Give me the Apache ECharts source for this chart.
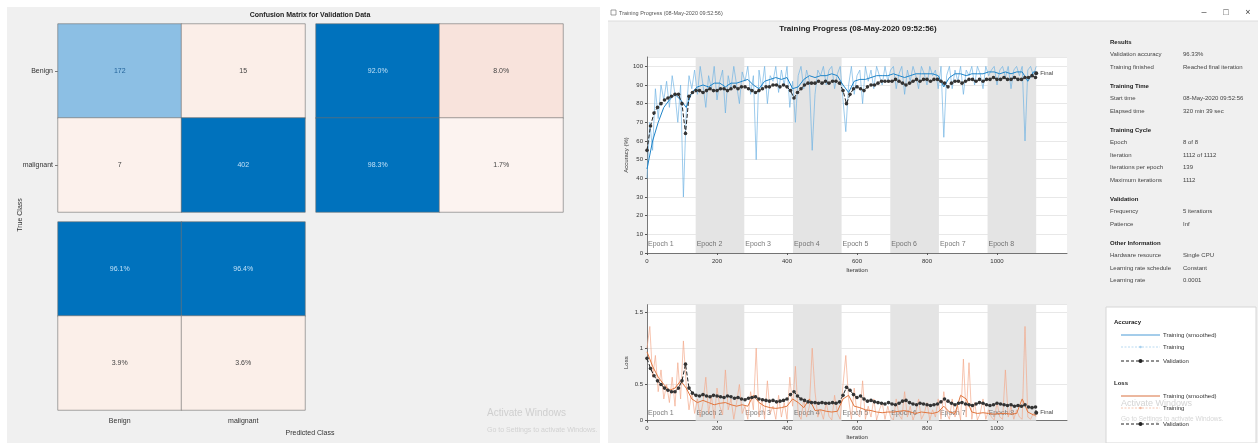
<!DOCTYPE html>
<html><head><meta charset="utf-8">
<script src="https://cdn.jsdelivr.net/npm/echarts@6/dist/echarts.min.js"></script>
<style>html,body{margin:0;padding:0;background:#fff}#c{width:1258px;height:443px}</style>
</head><body><div id="c"></div><script>
// ---------------- DATA ----------------
const classes = ['Benign', 'malignant'];
const counts = [[172, 15], [7, 402]];          // true class rows x predicted class cols
const rowPct = [[92.0, 8.0], [98.3, 1.7]];     // per true class: correct, incorrect
const colPct = [[96.1, 96.4], [3.9, 3.6]];     // per predicted class: correct row, incorrect row

const itersPerEpoch = 139;
const numEpochs = 8;
const maxIter = 1112;
const rawStep = 8, smoothStep = 16, valStep = 10;
const epochNames = ['Epoch 1','Epoch 2','Epoch 3','Epoch 4','Epoch 5','Epoch 6','Epoch 7','Epoch 8'];

const accRaw = [
 40,70,55,88,72,90,82,92,78,95,
 85,70,90,30,75,95,88,98,85,100,
 90,78,95,88,100,82,92,98,75,95,
 88,100,90,80,97,92,100,85,95,50,
 98,88,100,80,95,92,100,86,98,90,
 100,78,92,70,95,100,88,98,92,55,
 85,98,95,100,90,98,100,88,96,100,
 82,65,90,100,85,95,98,80,100,92,
 98,88,100,95,90,100,92,98,100,88,
 96,100,85,98,92,100,95,88,100,96,
 90,100,95,98,88,100,62,95,100,88,
 98,92,100,85,98,95,100,90,100,96,
 88,100,95,98,100,90,98,100,94,100,
 88,98,100,95,100,60,98,100,95,100];
const accSmooth = [
 45,60,70,78,82,85,82,78,86,89,
 90,89,91,91,89,91,91,92,93,90,
 88,92,93,94,93,94,88,89,93,95,
 94,95,95,96,95,90,86,92,93,93,
 94,95,95,95,96,95,94,95,96,96,
 96,96,95,89,94,96,96,95,96,96,
 96,97,97,96,97,96,97,97,92,97,
 97];
const accVal = [
 55,68,75,78,80,82,83,84,85,85,
 80,64,84,86,87,87,86,87,88,87,
 87,88,88,87,88,89,88,89,89,88,
 87,86,87,88,89,89,90,90,89,90,
 89,87,83,86,88,90,91,91,91,92,
 91,92,91,92,92,91,87,80,85,88,
 89,88,87,89,90,90,91,92,92,92,
 92,93,92,91,90,91,92,93,92,93,
 93,92,93,93,92,91,89,91,92,92,
 91,92,93,93,92,93,92,93,93,94,
 93,93,94,93,93,94,93,93,94,94,
 95,94,
 96.3];
const lossRaw = [
 1.0,1.3,0.6,0.9,0.4,0.7,0.3,0.5,0.25,0.6,
 0.2,0.8,0.3,1.1,0.5,0.15,0.4,0.1,0.3,0.05,
 0.25,0.6,0.1,0.35,0.03,0.45,0.2,0.08,0.7,0.15,
 0.3,0.02,0.25,0.5,0.1,0.2,0.02,0.4,0.15,1.0,
 0.05,0.3,0.02,0.55,0.1,0.2,0.02,0.35,0.05,0.25,
 0.02,0.6,0.2,0.75,0.1,0.02,0.3,0.05,0.2,1.0,
 0.4,0.05,0.15,0.02,0.25,0.06,0.01,0.35,0.1,0.02,
 0.5,0.9,0.3,0.02,0.45,0.1,0.05,0.55,0.02,0.2,
 0.05,0.3,0.01,0.15,0.25,0.02,0.2,0.05,0.01,0.3,
 0.08,0.02,0.4,0.05,0.2,0.01,0.12,0.3,0.02,0.1,
 0.25,0.01,0.15,0.05,0.3,0.02,0.4,0.1,0.02,0.3,
 0.05,0.2,0.01,0.85,0.05,0.8,0.02,0.25,0.01,0.1,
 0.3,0.02,0.15,0.05,0.01,0.25,0.05,0.02,0.7,0.05,
 0.2,0.02,0.15,0.05,0.02,1.3,0.05,0.02,0.1,0.05];
const lossSmooth = [
 0.95,0.75,0.6,0.5,0.42,0.45,0.55,0.45,0.3,0.25,
 0.28,0.25,0.22,0.24,0.25,0.22,0.2,0.22,0.2,0.35,
 0.25,0.2,0.18,0.17,0.18,0.2,0.3,0.25,0.18,0.3,
 0.14,0.15,0.13,0.12,0.13,0.3,0.35,0.2,0.18,0.15,
 0.14,0.12,0.11,0.12,0.12,0.13,0.14,0.12,0.1,0.12,
 0.11,0.1,0.12,0.2,0.12,0.1,0.35,0.3,0.12,0.1,
 0.11,0.1,0.09,0.1,0.1,0.09,0.1,0.3,0.12,0.08,
 0.08];
const lossVal = [
 0.86,0.72,0.62,0.55,0.50,0.45,0.42,0.40,0.40,0.45,
 0.55,0.78,0.45,0.38,0.35,0.34,0.36,0.34,0.33,0.35,
 0.34,0.33,0.32,0.34,0.33,0.31,0.32,0.30,0.29,0.31,
 0.32,0.33,0.30,0.29,0.28,0.27,0.28,0.26,0.27,0.28,
 0.30,0.36,0.40,0.34,0.30,0.28,0.26,0.25,0.25,0.24,
 0.25,0.24,0.24,0.25,0.24,0.26,0.35,0.46,0.42,0.36,
 0.32,0.34,0.30,0.27,0.28,0.26,0.25,0.24,0.23,0.25,
 0.23,0.22,0.24,0.27,0.28,0.25,0.23,0.22,0.24,0.23,
 0.22,0.21,0.22,0.23,0.26,0.30,0.27,0.24,0.22,0.24,
 0.25,0.23,0.22,0.21,0.23,0.25,0.24,0.22,0.21,0.22,
 0.24,0.23,0.22,0.21,0.22,0.20,0.21,0.20,0.22,0.19,
 0.18,0.19,
 0.11];

const infoSections = [
 {title:'Results', rows:[['Validation accuracy','96.33%'],['Training finished','Reached final iteration']]},
 {title:'Training Time', rows:[['Start time','08-May-2020 09:52:56'],['Elapsed time','320 min 39 sec']]},
 {title:'Training Cycle', rows:[['Epoch','8 of 8'],['Iteration','1112 of 1112'],['Iterations per epoch','139'],['Maximum iterations','1112']]},
 {title:'Validation', rows:[['Frequency','5 iterations'],['Patience','Inf']]},
 {title:'Other Information', rows:[['Hardware resource','Single CPU'],['Learning rate schedule','Constant'],['Learning rate','0.0001']]}
];

// ---------------- STYLE ----------------
const FONT = 'Liberation Sans, Arial, sans-serif';
const BLUE = '#0072bd';
const countColors = [['#8cbfe4','#fbeee8'],['#fcf1ec', BLUE]];
const rowColors = [[BLUE,'#f8e3dc'],[BLUE,'#fcf3f0']];
const colColors = [[BLUE,BLUE],['#fbefe9','#fbefe9']];
const textOn = c => c === BLUE ? '#bfe0f7' : (c === '#8cbfe4' ? '#23639a' : '#444');

function toXY(arr, step){ return arr.map((v,i)=>[Math.min(i*step, maxIter), v]); }

function cmSeries(idx, vals, colors, fmt){
  const data = [];
  for (let r=0;r<2;r++) for (let c=0;c<2;c++){
    data.push({value:[c, r, vals[r][c]], itemStyle:{color:colors[r][c]},
      label:{color:textOn(colors[r][c])}});
  }
  return {type:'heatmap', xAxisIndex:idx, yAxisIndex:idx, data,
    itemStyle:{borderColor:'#6e6e6e', borderWidth:0.6},
    label:{show:true, fontSize:7, fontFamily:FONT, formatter:p=>fmt(p.value[2])},
    emphasis:{disabled:true}};
}

const bandAreas = [];
for (let e=1;e<numEpochs;e+=2){
  bandAreas.push([{xAxis:e*itersPerEpoch}, {xAxis:(e+1)*itersPerEpoch}]);
}
const markAreaCfg = {silent:true, data:bandAreas, itemStyle:{color:'#e4e4e4'}, label:{show:false}};

function epochLabels(gi, yPos){
  return {type:'scatter', xAxisIndex:gi, yAxisIndex:gi, symbolSize:0, silent:true, z:1,
    data:epochNames.map((n,e)=>({name:n, value:[e*itersPerEpoch, yPos]})),
    label:{show:true, position:'right', distance:1, formatter:'{b}', fontSize:7, color:'#555', fontFamily:FONT}};
}

const axisLblSmall = {fontSize:6, color:'#333', fontFamily:FONT};
function trainX(gi){
  return {type:'value', gridIndex:gi, min:0, max:1200, interval:200,
    axisLine:{lineStyle:{color:'#555', width:0.8}}, axisTick:{length:2, lineStyle:{color:'#555'}},
    axisLabel:Object.assign({showMaxLabel:false, margin:5, formatter:v=>String(v)}, axisLblSmall),
    splitLine:{show:false},
    name:'Iteration', nameLocation:'middle', nameGap:14, nameTextStyle:{fontSize:6, color:'#333', fontFamily:FONT}};
}

function valSeries(gi, arr){
  const d = toXY(arr, valStep);
  d[d.length-1] = {value:d[d.length-1], symbolSize:4,
    label:{show:true, position:'right', formatter:'Final', fontSize:6, color:'#444', fontFamily:FONT, distance:2}};
  return {type:'line', xAxisIndex:gi, yAxisIndex:gi, data:d, symbol:'circle', symbolSize:3.6,
    itemStyle:{color:'#333'}, lineStyle:{color:'#222', width:1, type:'dashed'}, z:5, silent:true, animation:false};
}

// ---------------- GRAPHICS ----------------
const g = [];
g.push({type:'rect', shape:{x:7,y:7,width:593,height:436}, style:{fill:'#f0f0f0'}, z:-10, silent:true});
g.push({type:'rect', shape:{x:608,y:21,width:650,height:422}, style:{fill:'#f0f0f0'}, z:-10, silent:true});
g.push({type:'line', shape:{x1:608,y1:21,x2:1258,y2:21}, style:{stroke:'#dcdcdc', lineWidth:1}, z:-9});
function T(text,x,y,opt){ g.push({type:'text', z:20, silent:true, style:Object.assign({text,x,y,fill:'#333', font:'7px '+FONT, textVerticalAlign:'middle'}, opt||{})}); }
T('Confusion Matrix for Validation Data', 310, 15, {font:'bold 7px '+FONT, textAlign:'center', fill:'#222'});
g.push({type:'text', z:20, rotation:Math.PI/2, x:20, y:215, style:{text:'True Class', font:'7px '+FONT, fill:'#333', textAlign:'center', textVerticalAlign:'middle'}});
T('Predicted Class', 310, 433, {textAlign:'center'});
T('Activate Windows', 487, 413, {font:'10px '+FONT, fill:'#cfcfcf'});
T('Go to Settings to activate Windows.', 487, 430, {font:'7px '+FONT, fill:'#d2d2d2'});
// window title bar
g.push({type:'rect', shape:{x:611,y:10,width:5,height:5}, style:{fill:'none', stroke:'#777', lineWidth:0.7}, z:20});
T('Training Progress (08-May-2020 09:52:56)', 619, 13, {font:'5.5px '+FONT, fill:'#555'});
T('\u2013', 1204, 13, {font:'9px '+FONT, fill:'#444', textAlign:'center'});
T('\u25A1', 1226, 13, {font:'9px '+FONT, fill:'#444', textAlign:'center'});
T('\u00D7', 1248, 13, {font:'9px '+FONT, fill:'#444', textAlign:'center'});
T('Training Progress (08-May-2020 09:52:56)', 858, 29, {font:'bold 8px '+FONT, textAlign:'center', fill:'#222'});
// info panel
let yy = 42;
infoSections.forEach((s, si)=>{
  if (si>0) yy += 6.5;
  T(s.title, 1110, yy, {font:'bold 6px '+FONT, fill:'#222'});
  s.rows.forEach(r=>{ yy += 12.5; T(r[0], 1110, yy, {font:'6px '+FONT, fill:'#444'}); T(r[1], 1183, yy, {font:'6px '+FONT, fill:'#444'}); });
  yy += 12.5;
});
// legend box
g.push({type:'rect', shape:{x:1106,y:307,width:150,height:136}, style:{fill:'#fff', stroke:'#d6d6d6', lineWidth:1}, z:10});
function legLine(y, color, dash, marker, w){
  g.push({type:'line', z:21, shape:{x1:1121,y1:y,x2:1160,y2:y}, style:{stroke:color, lineWidth:w||1, lineDash:dash||null}});
  if (marker) g.push({type:'circle', z:22, shape:{cx:1140.5,cy:y,r:marker}, style:{fill:color}});
}
T('Accuracy', 1114, 322, {font:'bold 6px '+FONT, fill:'#222'});
legLine(335, '#4a9bd6', null, 0, 1); T('Training (smoothed)', 1163, 335, {font:'6px '+FONT});
legLine(347, '#a7d0ee', [2,1.5], 1.3, 0.8); T('Training', 1163, 347, {font:'6px '+FONT});
legLine(361, '#222', [3,2], 2, 1); T('Validation', 1163, 361, {font:'6px '+FONT});
T('Loss', 1114, 383, {font:'bold 6px '+FONT, fill:'#222'});
legLine(396, '#d9703f', null, 0, 1); T('Training (smoothed)', 1163, 396, {font:'6px '+FONT});
legLine(408, '#f2b9a0', [2,1.5], 1.3, 0.8); T('Training', 1163, 408, {font:'6px '+FONT});
legLine(424, '#222', [3,2], 2, 1); T('Validation', 1163, 424, {font:'6px '+FONT});
T('Activate Windows', 1121, 404, {font:'9px '+FONT, fill:'#d4d4d4'});
T('Go to Settings to activate Windows.', 1121, 419, {font:'6.5px '+FONT, fill:'#d6d6d6'});

// ---------------- OPTION ----------------
const hiddenCat = (gi, inv) => ({type:'category', gridIndex:gi, data:classes, inverse:!!inv, show:false});
const option = {
  animation:false,
  textStyle:{fontFamily:FONT},
  graphic:g,
  grid:[
    {left:58, top:24, width:247, height:188},
    {left:316, top:24, width:247, height:188},
    {left:58, top:222, width:247, height:188},
    {left:647, top:57, width:420, height:196, show:true, backgroundColor:'#fff', borderWidth:0},
    {left:647, top:304.7, width:420, height:116, show:true, backgroundColor:'#fff', borderWidth:0}
  ],
  xAxis:[
    hiddenCat(0),
    hiddenCat(1),
    {type:'category', gridIndex:2, data:classes, axisLine:{show:false}, axisTick:{show:false},
     axisLabel:{fontSize:7, color:'#333', margin:8, fontFamily:FONT}},
    trainX(3),
    trainX(4)
  ],
  yAxis:[
    {type:'category', gridIndex:0, data:classes, inverse:true, axisLine:{show:false},
     axisTick:{show:true, length:3, alignWithLabel:true, lineStyle:{color:'#777'}},
     axisLabel:{fontSize:7, color:'#333', margin:5, fontFamily:FONT}},
    hiddenCat(1, true),
    hiddenCat(2, true),
    {type:'value', gridIndex:3, min:0, max:105, interval:10,
     axisLine:{show:true, lineStyle:{color:'#555', width:0.8}}, axisTick:{show:true, length:2},
     axisLabel:Object.assign({showMaxLabel:false, margin:4}, axisLblSmall),
     splitLine:{show:true, lineStyle:{color:'#e2e2e2', width:0.8}},
     name:'Accuracy (%)', nameLocation:'middle', nameGap:18, nameTextStyle:{fontSize:6, color:'#333', fontFamily:FONT}},
    {type:'value', gridIndex:4, min:0, max:1.6, interval:0.5,
     axisLine:{show:true, lineStyle:{color:'#555', width:0.8}}, axisTick:{show:true, length:2},
     axisLabel:Object.assign({showMaxLabel:false, margin:4}, axisLblSmall),
     splitLine:{show:true, lineStyle:{color:'#e2e2e2', width:0.8}},
     name:'Loss', nameLocation:'middle', nameGap:18, nameTextStyle:{fontSize:6, color:'#333', fontFamily:FONT}}
  ],
  series:[
    cmSeries(0, counts, countColors, v=>String(v)),
    cmSeries(1, rowPct, rowColors, v=>v.toFixed(1)+'%'),
    cmSeries(2, colPct, colColors, v=>v.toFixed(1)+'%'),
    {type:'line', xAxisIndex:3, yAxisIndex:3, data:toXY(accRaw, rawStep), showSymbol:false,
     lineStyle:{color:'#6db2e3', width:0.8, opacity:0.85}, markArea:markAreaCfg, silent:true},
    {type:'line', xAxisIndex:3, yAxisIndex:3, data:toXY(accSmooth, smoothStep), showSymbol:false,
     lineStyle:{color:'#1f84c8', width:1}, silent:true, z:3},
    valSeries(3, accVal),
    epochLabels(3, 5),
    {type:'line', xAxisIndex:4, yAxisIndex:4, data:toXY(lossRaw, rawStep), showSymbol:false,
     lineStyle:{color:'#f3a789', width:0.8, opacity:0.85}, markArea:markAreaCfg, silent:true},
    {type:'line', xAxisIndex:4, yAxisIndex:4, data:toXY(lossSmooth, smoothStep), showSymbol:false,
     lineStyle:{color:'#e0763f', width:1}, silent:true, z:3},
    valSeries(4, lossVal),
    epochLabels(4, 0.11)
  ]
};
const chart = echarts.init(document.getElementById('c'), null, {renderer:'canvas'});
chart.setOption(option);
</script></body></html>
